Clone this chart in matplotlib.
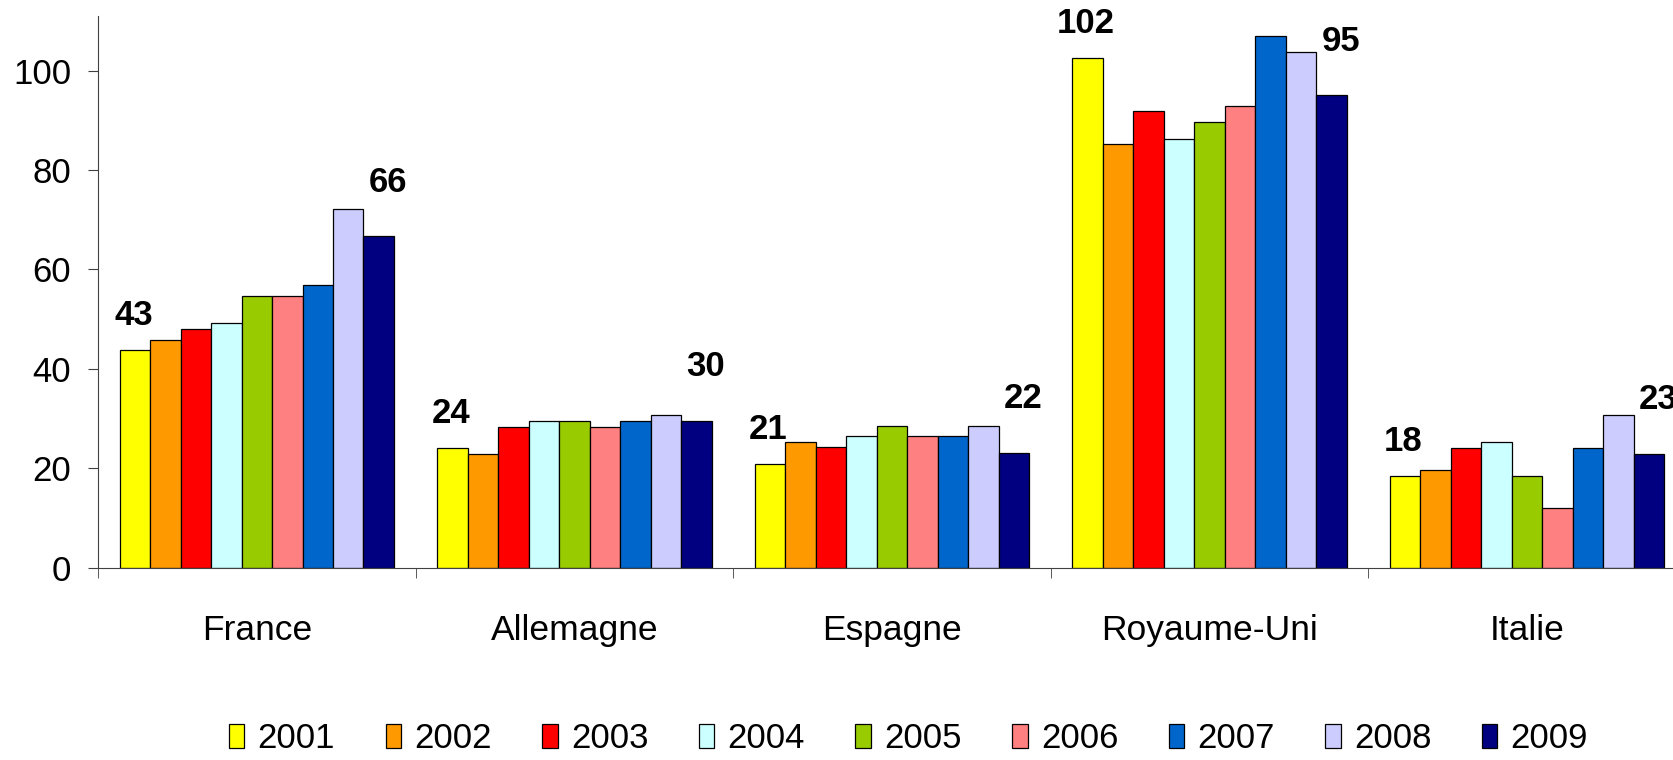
import matplotlib.pyplot as plt
import numpy as np

plt.rcParams['font.family'] = ['Liberation Sans', 'DejaVu Sans']

# Data
countries = ["France", "Allemagne", "Espagne", "Royaume-Uni", "Italie"]
years = ["2001", "2002", "2003", "2004", "2005", "2006", "2007", "2008", "2009"]
colors = ["#FFFF00", "#FF9900", "#FF0000", "#CCFFFF", "#99CC00",
          "#FF8080", "#0066CC", "#CCCCFF", "#000080"]

# one list per country, values 2001..2009
france = [43.7, 45.9, 48.1, 49.2, 54.6, 54.6, 56.9, 72.2, 66.7]
allemagne = [24.0, 22.9, 28.4, 29.6, 29.6, 28.4, 29.6, 30.7, 29.6]
espagne = [20.9, 25.3, 24.2, 26.4, 28.5, 26.4, 26.4, 28.5, 23.1]
royaume_uni = [102.5, 85.3, 91.8, 86.3, 89.6, 92.8, 107.0, 103.8, 95.0]
italie = [18.5, 19.7, 24.0, 25.2, 18.5, 12.0, 24.0, 30.7, 22.9]

first_labels = ["43", "24", "21", "102", "18"]
last_labels = ["66", "30", "22", "95", "23"]

data = np.array([france, allemagne, espagne, royaume_uni, italie])

fig = plt.figure(figsize=(16.73, 7.6), dpi=100)
# plot area runs past the right edge of the picture, as in the original
ax = fig.add_axes([0.0586, 0.253, 0.949, 0.726])

x = np.arange(len(countries))
width = 0.096
n = len(years)
offsets = (np.arange(n) - (n - 1) / 2) * width

for i, year in enumerate(years):
    ax.bar(x + offsets[i], data[:, i], width, color=colors[i],
           edgecolor="black", linewidth=0.9, label=year)

# value labels above first and last bar of each group
for j in range(len(countries)):
    ax.annotate(first_labels[j], (x[j] + offsets[0], data[j, 0]),
                xytext=(-1, 13), textcoords="offset points",
                ha="center", va="bottom", fontsize=25, fontweight="bold",
                annotation_clip=False)
    ax.annotate(last_labels[j], (x[j] + offsets[-1], data[j, -1]),
                xytext=(7, 27), textcoords="offset points",
                ha="center", va="bottom", fontsize=25, fontweight="bold",
                annotation_clip=False)

ax.set_xlim(-0.5, len(countries) - 0.5)
ax.set_ylim(0, 111)

ax.set_yticks(range(0, 101, 20))
ax.tick_params(axis="y", labelsize=25, length=7.2, pad=12, color="#404040")

ax.set_xticks(x)
ax.set_xticklabels(countries, fontsize=25.5)
ax.tick_params(axis="x", which="major", length=0, pad=33)
ax.set_xticks(np.arange(-0.5, len(countries)), minor=True)
ax.tick_params(axis="x", which="minor", length=7.2, color="#404040")

for s in ["top", "right"]:
    ax.spines[s].set_visible(False)
ax.spines["left"].set_color("#404040")
ax.spines["bottom"].set_color("#404040")

handles, labels = ax.get_legend_handles_labels()
fig.legend(handles, labels, loc="center", bbox_to_anchor=(0.543, 0.028),
           ncol=9, frameon=False, fontsize=25, handlelength=0.45,
           handleheight=0.7, handletextpad=0.38, columnspacing=1.45)

fig.savefig("out.png", dpi=100)
